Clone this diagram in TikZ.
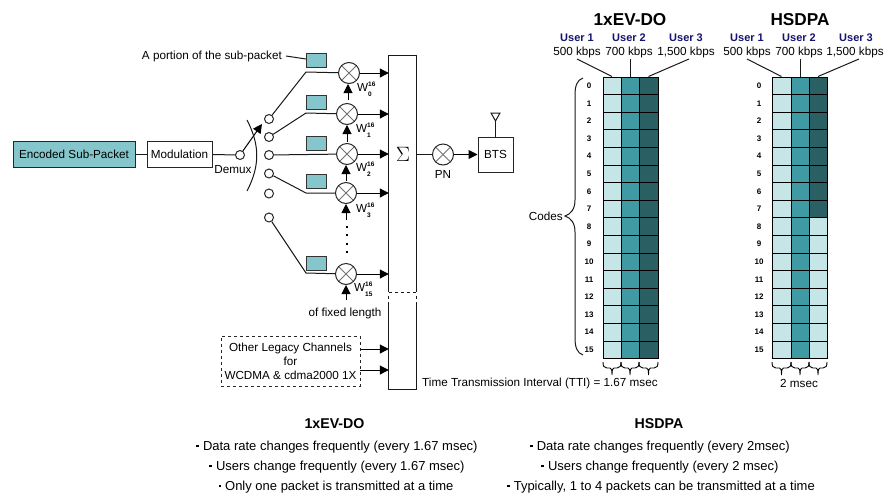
\documentclass[tikz,border=0pt]{standalone}
\usepackage{fontspec}
\setmainfont{Liberation Sans}
\usepackage{tikz}
\usetikzlibrary{arrows.meta}
\definecolor{tealpale}{HTML}{C5E5E6}
\definecolor{tealmid}{HTML}{3F9AA3}
\definecolor{tealdark}{HTML}{2A6064}
\definecolor{tealbox}{HTML}{84C6CB}
\definecolor{usernavy}{HTML}{14146E}
\tikzstyle{label}=[inner sep=0pt, font=\fontsize{11.7}{14}\selectfont]
\tikzstyle{bullet}=[inner sep=0pt, font=\fontsize{13}{15}\selectfont]
\tikzstyle{block}=[draw=black!85, line width=1pt, inner sep=0pt, font=\fontsize{11.7}{14}\selectfont]
\tikzstyle{packet}=[draw=black!80, fill=tealbox, line width=1pt, minimum width=20pt, minimum height=14pt, inner sep=0pt]
\tikzstyle{tap}=[draw=black!85, fill=white, shape=circle, line width=1pt, minimum size=9pt, inner sep=0pt]
\tikzstyle{mixer}=[draw=black!85, fill=white, shape=circle, line width=1pt, minimum size=21pt, inner sep=0pt,
    path picture={\draw [black!55, line width=1pt] (path picture bounding box.north west) -- (path picture bounding box.south east);
    \draw [black!55, line width=1pt] (path picture bounding box.north east) -- (path picture bounding box.south west);}]
\tikzstyle{wire}=[-, draw=black!90, line width=1pt]
\tikzstyle{feed}=[-{Triangle[length=9pt,width=9pt]}, draw=black, line width=1pt]
\tikzstyle{cell}=[draw=black, line width=1pt, minimum height=17.6pt, inner sep=0pt]
\tikzstyle{code}=[inner sep=0pt, font=\fontsize{8}{9}\bfseries\selectfont]
\tikzstyle{user}=[inner sep=0pt, text=usernavy, font=\fontsize{11}{13}\bfseries\selectfont]
\tikzstyle{title}=[inner sep=0pt, font=\fontsize{17.2}{19}\bfseries\selectfont]
\tikzstyle{smallbrace}=[draw=black, line width=0.9pt]
\newcommand{\wsup}[1]{\fontsize{6.5}{7}\bfseries\selectfont #1}
\newcommand{\wcode}[1]{W\rlap{\raisebox{4.8pt}{\wsup{16}}}\raisebox{-4.8pt}{\wsup{#1}}}
\newcommand{\sqbul}{\rule[3pt]{2.6pt}{2.6pt}\hspace{4pt}}
\pgfdeclarelayer{nodelayer}
\pgfdeclarelayer{edgelayer}
\pgfsetlayers{edgelayer,main,nodelayer}
\begin{document}
\begin{tikzpicture}[x=1pt, y=-1pt]
    \useasboundingbox (0, 0) rectangle (893, 496);
    \begin{pgfonlayer}{nodelayer}
        \node [style=block, fill=tealbox, minimum width=122pt, minimum height=26pt] (encoded) at (74, 154) {Encoded Sub-Packet};
        \node [style=block, fill=white, minimum width=65pt, minimum height=26pt] (modulation) at (179.5, 154) {Modulation};
        \node [style=tap] (demux) at (240, 155) {};
        \node [style=label] (demuxtext) at (233, 169.5) {Demux};
        \node [style=label, anchor=east] (portion) at (282, 56) {A portion of the sub-packet};
        % switch contacts
        \node [style=tap] (tap0) at (269, 119) {};
        \node [style=tap] (tap1) at (269, 137) {};
        \node [style=tap] (tap2) at (269, 155) {};
        \node [style=tap] (tap3) at (269, 173.5) {};
        \node [style=tap] (tap4) at (269, 193.5) {};
        \node [style=tap] (tap15) at (269, 217.5) {};
        \node [style=packet] (pkt0) at (316, 60) {};
        \node [style=packet] (pkt1) at (316, 102) {};
        \node [style=packet] (pkt2) at (316, 143) {};
        \node [style=packet] (pkt3) at (316, 181) {};
        \node [style=packet] (pkt15) at (316, 263) {};
        \node [style=mixer] (mix0) at (349, 73) {};
        \node [style=mixer] (mix1) at (347, 114) {};
        \node [style=mixer] (mix2) at (347, 154) {};
        \node [style=mixer] (mix3) at (346, 193) {};
        \node [style=mixer] (mix15) at (346, 274) {};
        \node [style=label, anchor=west] (w0) at (357, 89) {\wcode{0}};
        \node [style=label, anchor=west] (w1) at (356, 130) {\wcode{1}};
        \node [style=label, anchor=west] (w2) at (356, 169) {\wcode{2}};
        \node [style=label, anchor=west] (w3) at (356, 210) {\wcode{3}};
        \node [style=label, anchor=west] (w15) at (354, 289) {\wcode{15}};
        \node [style=label] (fixed) at (345, 313) {of fixed length};
        \node [minimum width=27pt, minimum height=333pt, inner sep=0pt] (sum) at (402.5, 222.5) {};
        \node [inner sep=0pt, font=\fontsize{21}{23}\selectfont] (sigma) at (403, 154) {$\Sigma$};
        \node [style=mixer] (pn) at (443, 154.5) {};
        \node [style=label] (pntext) at (443, 174) {PN};
        \node [style=block, fill=white, minimum width=35pt, minimum height=35pt] (bts) at (495.5, 154.5) {BTS};
        \node [style=block, dashed, align=center, minimum width=139pt, minimum height=50pt] (legacy) at (290.5, 361) {Other Legacy Channels\\for\\WCDMA \& cdma2000 1X};
        \node [style=label, anchor=west] (tti) at (422, 383) {Time Transmission Interval (TTI) = 1.67 msec};
        \node [style=label] (twoms) at (799, 383) {2 msec};
        % titles and users
        \node [style=title] (evdo) at (630, 20) {1xEV-DO};
        \node [style=title] (hsdpa) at (800, 20) {HSDPA};
        \node [style=user] (eu1) at (577, 38) {User 1};
        \node [style=user] (eu2) at (629, 38) {User 2};
        \node [style=user] (eu3) at (686, 38) {User 3};
        \node [style=user] (hu1) at (747, 38) {User 1};
        \node [style=user] (hu2) at (799, 38) {User 2};
        \node [style=user] (hu3) at (856, 38) {User 3};
        \node [style=label] (er1) at (577, 52) {500 kbps};
        \node [style=label] (er2) at (629, 52) {700 kbps};
        \node [style=label] (er3) at (686, 52) {1,500 kbps};
        \node [style=label] (hr1) at (747, 52) {500 kbps};
        \node [style=label] (hr2) at (799, 52) {700 kbps};
        \node [style=label] (hr3) at (855, 52) {1,500 kbps};
        % code grids
        \foreach \r in {0,...,15} {
            \pgfmathsetmacro{\ypos}{85.8+17.6*\r}
            \node [style=cell, fill=tealpale, minimum width=18pt] (ea\r) at (612, \ypos) {};
            \node [style=cell, fill=tealmid, minimum width=18pt] (eb\r) at (630, \ypos) {};
            \node [style=cell, fill=tealdark, minimum width=19pt] (ec\r) at (648.5, \ypos) {};
            \node [style=cell, fill=tealpale, minimum width=19pt] (ha\r) at (781.5, \ypos) {};
            \node [style=cell, fill=tealmid, minimum width=18pt] (hb\r) at (800, \ypos) {};
            \node [style=code] (en\r) at (589, \ypos) {\r};
            \node [style=code] (hn\r) at (759, \ypos) {\r};
        }
        \foreach \r in {0,...,7} {
            \pgfmathsetmacro{\ypos}{85.8+17.6*\r}
            \node [style=cell, fill=tealdark, minimum width=18pt] (hc\r) at (818, \ypos) {};
        }
        \foreach \r in {8,...,15} {
            \pgfmathsetmacro{\ypos}{85.8+17.6*\r}
            \node [style=cell, fill=tealpale, minimum width=18pt] (hc\r) at (818, \ypos) {};
        }
        \node [style=label, anchor=east] (codes) at (563, 216) {Codes};
        % summary
        \node [inner sep=0pt, font=\fontsize{14.2}{16}\bfseries\selectfont] (sumevdo) at (334.5, 424) {1xEV-DO};
        \node [inner sep=0pt, font=\fontsize{14.2}{16}\bfseries\selectfont] (sumhsdpa) at (659, 424) {HSDPA};
        \node [style=bullet] (ev1) at (337, 447) {\sqbul Data rate changes frequently (every 1.67 msec)};
        \node [style=bullet] (ev2) at (337, 467) {\sqbul Users change frequently (every 1.67 msec)};
        \node [style=bullet] (ev3) at (336, 487) {\sqbul Only one packet is transmitted at a time};
        \node [style=bullet] (hs1) at (660, 447) {\sqbul Data rate changes frequently (every 2msec)};
        \node [style=bullet] (hs2) at (660, 467) {\sqbul Users change frequently (every 2 msec)};
        \node [style=bullet] (hs3) at (661, 487) {\sqbul Typically, 1 to 4 packets can be transmitted at a time};
    \end{pgfonlayer}
    \begin{pgfonlayer}{edgelayer}
        \coordinate (sw0) at (306, 72);
        \coordinate (sw1) at (306, 113);
        \coordinate (sw3) at (306, 193);
        \coordinate (sw15) at (306, 273);
        \coordinate (demuxtip) at (262, 124);
        \coordinate (portionend) at (306, 59);
        \coordinate (ant) at (495.5, 120);
        \coordinate (lg1) at (360, 349);
        \coordinate (lg2) at (360, 370);
        \coordinate (cw0) at (348, 100);
        \coordinate (cw1) at (347, 142);
        \coordinate (cw2) at (346, 181);
        \coordinate (cw3) at (346, 220);
        \coordinate (cw15) at (346, 300);
        \draw [style=wire] (encoded) to (modulation);
        \draw [style=wire] (modulation) to (demux);
        \draw [style=feed] (demux) to (demuxtip);
        \draw [style=wire] (247, 120) .. controls (260, 145) and (260, 166) .. (247, 191);
        \draw [style=wire] (portion.east) ++(4, 0) to (portionend);
        \draw [style=wire] (tap0) -- (sw0) -- (mix0);
        \draw [style=wire] (tap1) -- (sw1) -- (mix1);
        \draw [style=wire] (tap2) -- (mix2);
        \draw [style=wire] (tap3) -- (sw3) -- (mix3);
        \draw [style=wire] (tap15) -- (sw15) -- (mix15);
        \draw [style=feed] (mix0.east) to (mix0 -| sum.west);
        \draw [style=feed] (mix1.east) to (mix1 -| sum.west);
        \draw [style=feed] (mix2.east) to (mix2 -| sum.west);
        \draw [style=feed] (mix3.east) to (mix3 -| sum.west);
        \draw [style=feed] (mix15.east) to (mix15 -| sum.west);
        \draw [style=feed] (cw0) to (mix0.south -| cw0);
        \draw [style=feed] (cw1) to (mix1.south -| cw1);
        \draw [style=feed] (cw2) to (mix2.south -| cw2);
        \draw [style=feed] (cw3) to (mix3.south -| cw3);
        \draw [style=feed] (cw15) to (mix15.south -| cw15);
        \draw [black, line width=2pt, dash pattern=on 2pt off 6.3pt] (346.5, 226) -- (346.5, 254);
        \draw [style=wire] (sum.east |- pn) to (pn);
        \draw [style=feed] (pn) to (bts);
        \draw [style=wire] (bts.north) to (ant);
        \draw [style=wire] (491, 113) -- (500, 113) -- (495.5, 121) -- cycle;
        \draw [style=feed] (lg1) to (lg1 -| sum.west);
        \draw [style=feed] (lg2) to (lg2 -| sum.west);
        % sum block, broken near the legacy part
        \draw [style=wire] (sum.west |- 0, 292) -- (sum.north west) -- (sum.north east) -- (sum.east |- 0, 292);
        \draw [style=wire, dashed] (sum.west |- 0, 292) -- (sum.east |- 0, 292);
        \draw [style=wire, dashed] (sum.west |- 0, 296) -- (sum.west |- 0, 304);
        \draw [style=wire, dashed] (sum.east |- 0, 296) -- (sum.east |- 0, 304);
        \draw [style=wire] (sum.west |- 0, 304) -- (sum.south west) -- (sum.south east) -- (sum.east |- 0, 304);
        % leaders to the grids
        \draw [style=wire] (577, 59) -- (ea0.north);
        \draw [style=wire] (630, 59) -- (eb0.north);
        \draw [style=wire] (689, 59) -- (ec0.north);
        \draw [style=wire] (747, 59) -- (ha0.north);
        \draw [style=wire] (800, 59) -- (hb0.north);
        \draw [style=wire] (859, 59) -- (hc0.north);
        \draw [style=wire] (583, 78) .. controls (577, 80) and (575, 86) .. (575, 95) -- (575, 200)
            .. controls (575, 209) and (571, 214) .. (565, 216) .. controls (571, 218) and (575, 223) .. (575, 232)
            -- (575, 338) .. controls (575, 347) and (577, 353) .. (583, 355);
        \foreach \x/\w in {603/18, 621/18, 639/19, 772/19, 791/18, 809/18} {
            \draw [style=smallbrace] (\x, 362) .. controls (\x, 366) and (\x+1, 368) .. (\x+4, 368) -- (\x+\w/2-2, 368)
                .. controls (\x+\w/2-0.5, 368) and (\x+\w/2, 370) .. (\x+\w/2, 375)
                .. controls (\x+\w/2, 370) and (\x+\w/2+0.5, 368) .. (\x+\w/2+2, 368) -- (\x+\w-4, 368)
                .. controls (\x+\w-1, 368) and (\x+\w, 366) .. (\x+\w, 362);
        }
    \end{pgfonlayer}
\end{tikzpicture}
\end{document}
